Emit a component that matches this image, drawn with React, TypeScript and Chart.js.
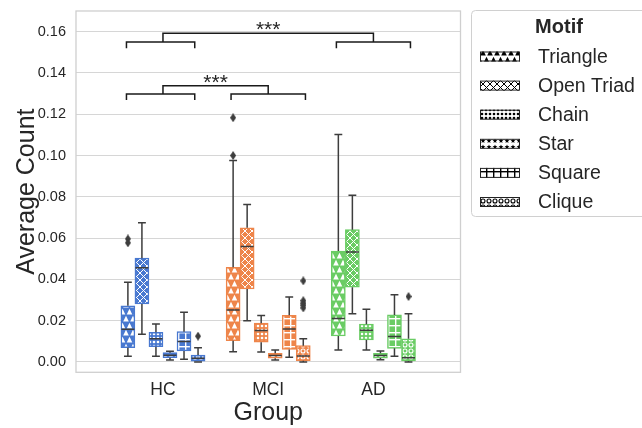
import React, { useEffect, useRef } from 'react';
import { Chart, registerables } from 'chart.js';

Chart.register(...registerables);

const GROUPS = ['HC', 'MCI', 'AD'];
const MOTIFS = ['Triangle', 'Open Triad', 'Chain', 'Star', 'Square', 'Clique'];
const HATCHES = ['triangle', 'cross', 'dots', 'star', 'plus', 'circle'];
const GROUP_COLORS = ['#4878d0', '#ee854a', '#6acc64'];

// one row per motif, values for [HC, MCI, AD]
const WHISKER_LOW = [
  [0.0028, 0.0050, 0.0058],
  [0.0134, 0.0200, 0.0233],
  [0.0028, 0.0048, 0.0058],
  [0.0010, 0.0010, 0.0011],
  [0.0013, 0.0023, 0.0028],
  [0.0000, 0.0000, 0.0000],
];
const Q1 = [
  [0.0069, 0.0103, 0.0126],
  [0.0281, 0.0354, 0.0362],
  [0.0074, 0.0096, 0.0107],
  [0.0021, 0.0018, 0.0019],
  [0.0053, 0.0061, 0.0066],
  [0.0004, 0.0006, 0.0005],
];
const MEDIAN = [
  [0.0158, 0.0252, 0.0210],
  [0.0457, 0.0559, 0.0533],
  [0.0113, 0.0152, 0.0154],
  [0.0032, 0.0031, 0.0031],
  [0.0099, 0.0160, 0.0123],
  [0.0018, 0.0029, 0.0021],
];
const Q3 = [
  [0.0272, 0.0459, 0.0537],
  [0.0503, 0.0650, 0.0641],
  [0.0144, 0.0188, 0.0183],
  [0.0045, 0.0042, 0.0042],
  [0.0147, 0.0226, 0.0228],
  [0.0034, 0.0079, 0.0112],
];
const WHISKER_HIGH = [
  [0.0386, 0.0976, 0.1102],
  [0.0674, 0.0763, 0.0808],
  [0.0184, 0.0225, 0.0255],
  [0.0052, 0.0058, 0.0053],
  [0.0241, 0.0315, 0.0326],
  [0.0069, 0.0113, 0.0234],
];
// [motif index, group index, value]
const OUTLIERS = [
  [0, 0, 0.0596], [0, 0, 0.0577],
  [5, 0, 0.0125],
  [0, 1, 0.1183], [0, 1, 0.1000],
  [5, 1, 0.0393], [5, 1, 0.0297], [5, 1, 0.0285], [5, 1, 0.0275], [5, 1, 0.0262],
  [5, 2, 0.0317],
];
const Y_TICKS = [0, 0.02, 0.04, 0.06, 0.08, 0.1, 0.12, 0.14, 0.16];

// significance annotations
const SIG_TEXT = ['***', '***'];
const SIG_PAIRS = [[0, 2], [0, 1]];
const SIG_TOP_Y = [0.1592, 0.1338];
const SIG_GROUP_Y = [0.1550, 0.1298];
const SIG_TIP_Y = [0.1520, 0.1269];
const SIG_SPAN = [[-0.347, 0.302], [-0.353, 0.354], [-0.352, 0.352]];

const FONT = "'Liberation Sans', Arial, sans-serif";
const TEXT_COLOR = '#262626';
const LINE_COLOR = '#3d3d3d';
const GRID_COLOR = '#d6d6d6';

const HUE_WIDTH = 0.8 / MOTIFS.length;
const hueOffset = (m: number) => (m - (MOTIFS.length - 1) / 2) * HUE_WIDTH;

function triangle(g: CanvasRenderingContext2D, cx: number, top: number, s: number) {
  g.beginPath();
  g.moveTo(cx, top); g.lineTo(cx + s / 2, top + s); g.lineTo(cx - s / 2, top + s); g.closePath();
  g.fill();
}

function makeTile(kind: string, fg: string, bg: string): HTMLCanvasElement {
  const c = document.createElement('canvas');
  let w = 6, h = 6;
  if (kind === 'triangle') { w = 7; h = 14; }
  if (kind === 'cross') { w = 7; h = 7; }
  if (kind === 'dots') { w = 4; h = 4; }
  if (kind === 'plus') { w = 7; h = 7; }
  c.width = w; c.height = h;
  const g = c.getContext('2d')!;
  g.fillStyle = bg;
  g.fillRect(0, 0, w, h);
  g.fillStyle = fg;
  g.strokeStyle = fg;
  if (kind === 'triangle') {
    triangle(g, 3.5, 0.8, 5.6);
    triangle(g, 0, 7.8, 5.6);
    triangle(g, 7, 7.8, 5.6);
  } else if (kind === 'cross') {
    g.lineWidth = 1;
    g.beginPath();
    g.moveTo(-1, -1); g.lineTo(w + 1, h + 1);
    g.moveTo(w + 1, -1); g.lineTo(-1, h + 1);
    g.stroke();
  } else if (kind === 'dots') {
    g.beginPath(); g.arc(2, 2, 1.3, 0, Math.PI * 2); g.fill();
  } else if (kind === 'star') {
    g.beginPath();
    for (let k = 0; k < 10; k++) {
      const r = k % 2 === 0 ? 2.6 : 1.1;
      const a = -Math.PI / 2 + (k * Math.PI) / 5;
      const px = 3 + r * Math.cos(a), py = 3 + r * Math.sin(a);
      if (k === 0) g.moveTo(px, py); else g.lineTo(px, py);
    }
    g.closePath(); g.fill();
  } else if (kind === 'plus') {
    g.fillRect(3, 0, 1.4, h);
    g.fillRect(0, 3, w, 1.4);
  } else if (kind === 'circle') {
    g.lineWidth = 1.1;
    g.beginPath(); g.arc(3, 3, 2, 0, Math.PI * 2); g.stroke();
  }
  return c;
}

function makeDiamond(): HTMLCanvasElement {
  const c = document.createElement('canvas');
  c.width = 6; c.height = 9;
  const g = c.getContext('2d')!;
  g.fillStyle = LINE_COLOR;
  g.beginPath();
  g.moveTo(3, 0); g.lineTo(6, 4.5); g.lineTo(3, 9); g.lineTo(0, 4.5); g.closePath();
  g.fill();
  return c;
}

const framePlugin = {
  id: 'frame',
  beforeDatasetsDraw(chart: any) {
    const { ctx, chartArea: a } = chart;
    ctx.save();
    ctx.strokeStyle = '#cfcfcf';
    ctx.lineWidth = 1.3;
    ctx.strokeRect(a.left, a.top, a.right - a.left, a.bottom - a.top);
    ctx.restore();
  },
};

const boxPlugin = {
  id: 'boxDetails',
  afterDatasetsDraw(chart: any) {
    const ctx = chart.ctx;
    const ys = chart.scales.y;
    ctx.save();
    ctx.strokeStyle = LINE_COLOR;
    ctx.lineWidth = 1.5;
    for (let m = 0; m < MOTIFS.length; m++) {
      const meta = chart.getDatasetMeta(m);
      meta.data.forEach((el: any, g: number) => {
        const { x, width } = el.getProps(['x', 'width'], true);
        const lo = ys.getPixelForValue(WHISKER_LOW[m][g]);
        const q1 = ys.getPixelForValue(Q1[m][g]);
        const md = ys.getPixelForValue(MEDIAN[m][g]);
        const q3 = ys.getPixelForValue(Q3[m][g]);
        const hi = ys.getPixelForValue(WHISKER_HIGH[m][g]);
        const cap = width * 0.28;
        ctx.beginPath();
        ctx.moveTo(x, q1); ctx.lineTo(x, lo);
        ctx.moveTo(x, q3); ctx.lineTo(x, hi);
        ctx.moveTo(x - cap, lo); ctx.lineTo(x + cap, lo);
        ctx.moveTo(x - cap, hi); ctx.lineTo(x + cap, hi);
        ctx.moveTo(x - width / 2 + 0.5, md); ctx.lineTo(x + width / 2 - 0.5, md);
        ctx.stroke();
      });
    }
    ctx.restore();
  },
};

const sigPlugin = {
  id: 'significance',
  afterDraw(chart: any) {
    const { ctx } = chart;
    const xs = chart.scales.x, ys = chart.scales.y;
    ctx.save();
    ctx.strokeStyle = '#1a1a1a';
    ctx.lineWidth = 1.5;
    ctx.fillStyle = TEXT_COLOR;
    SIG_PAIRS.forEach((pair, k) => {
      const top = ys.getPixelForValue(SIG_TOP_Y[k]);
      const grp = ys.getPixelForValue(SIG_GROUP_Y[k]);
      const tip = ys.getPixelForValue(SIG_TIP_Y[k]);
      ctx.beginPath();
      pair.forEach((g) => {
        const l = xs.getPixelForValue(g + SIG_SPAN[g][0]);
        const r = xs.getPixelForValue(g + SIG_SPAN[g][1]);
        ctx.moveTo(l, tip); ctx.lineTo(l, grp); ctx.lineTo(r, grp); ctx.lineTo(r, tip);
      });
      const a = xs.getPixelForValue(pair[0]);
      const b = xs.getPixelForValue(pair[1]);
      ctx.moveTo(a, grp); ctx.lineTo(a, top); ctx.lineTo(b, top); ctx.lineTo(b, grp);
      ctx.stroke();
      ctx.font = `21px ${FONT}`;
      ctx.textAlign = 'center';
      ctx.textBaseline = 'alphabetic';
      ctx.fillText(SIG_TEXT[k], (a + b) / 2, top + 3);
    });
    ctx.restore();
  },
};

function makeLegendPlugin(tiles: HTMLCanvasElement[]) {
  return {
    id: 'motifLegend',
    afterDraw(chart: any) {
      const { ctx } = chart;
      ctx.save();
      ctx.fillStyle = 'rgba(255,255,255,0.9)';
      ctx.strokeStyle = '#d0d0d0';
      ctx.lineWidth = 1;
      ctx.beginPath();
      ctx.roundRect(471.5, 10.5, 190, 206, 4);
      ctx.fill();
      ctx.stroke();
      ctx.fillStyle = TEXT_COLOR;
      ctx.font = `bold 20px ${FONT}`;
      ctx.textAlign = 'center';
      ctx.textBaseline = 'middle';
      ctx.fillText('Motif', 559, 27.5);
      ctx.font = `19.5px ${FONT}`;
      ctx.textAlign = 'left';
      MOTIFS.forEach((name, i) => {
        const cy = 56.5 + i * 29.1;
        const pat = ctx.createPattern(tiles[i], 'repeat');
        ctx.fillStyle = pat;
        ctx.fillRect(480, cy - 5, 40, 10);
        ctx.strokeStyle = '#222222';
        ctx.lineWidth = 1;
        ctx.strokeRect(480.5, cy - 4.5, 39, 9);
        ctx.fillStyle = TEXT_COLOR;
        ctx.fillText(name, 538, cy + 1);
      });
      ctx.restore();
    },
  };
}

export default function App() {
  const ref = useRef<HTMLCanvasElement | null>(null);

  useEffect(() => {
    const canvas = ref.current;
    if (!canvas) return;
    const ctx = canvas.getContext('2d')!;
    const diamond = makeDiamond();
    const legendTiles = HATCHES.map((h) => makeTile(h, '#000000', '#ffffff'));

    const boxSets = MOTIFS.map((name, m) => ({
      type: 'bar' as const,
      label: name,
      data: GROUPS.map((_, g) => ({ x: g + hueOffset(m), y: [Q1[m][g], Q3[m][g]] })),
      backgroundColor: GROUP_COLORS.map((c) => ctx.createPattern(makeTile(HATCHES[m], '#ffffff', c), 'repeat')),
      borderColor: GROUP_COLORS,
      borderWidth: 1.5,
      borderSkipped: false,
      grouped: false,
      barPercentage: 1,
      categoryPercentage: 1,
      order: 2,
    }));

    const outlierSet = {
      type: 'scatter' as const,
      label: 'outliers',
      data: OUTLIERS.map(([m, g, v]) => ({ x: g + hueOffset(m), y: v })),
      pointStyle: diamond,
      backgroundColor: LINE_COLOR,
      borderColor: LINE_COLOR,
      order: 1,
    };

    const chart: any = new Chart(canvas, {
      type: 'bar',
      data: { datasets: [...boxSets, outlierSet] as any },
      options: {
        responsive: false,
        animation: false,
        layout: { padding: { top: 11, right: 181.5, left: 0, bottom: 0 } },
        plugins: {
          legend: { display: false },
          tooltip: { enabled: false },
        },
        scales: {
          x: {
            type: 'linear',
            offset: false,
            min: -0.8265,
            max: 2.8275,
            afterBuildTicks: (s: any) => { s.ticks = GROUPS.map((_, i) => ({ value: i })); },
            afterFit: (s: any) => { s.height = 55.7; s.paddingLeft = 0; s.paddingRight = 0; },
            grid: { display: false, drawTicks: false },
            border: { display: false },
            ticks: {
              autoSkip: false,
              maxRotation: 0,
              padding: 7,
              color: TEXT_COLOR,
              font: { family: FONT, size: 17.5 },
              callback: (v: any) => GROUPS[Math.round(Number(v))] ?? '',
            },
            title: {
              display: true,
              text: 'Group',
              color: TEXT_COLOR,
              font: { family: FONT, size: 25 },
              padding: { top: 0, bottom: 0 },
            },
          },
          y: {
            type: 'linear',
            min: -0.005,
            max: 0.17,
            afterBuildTicks: (s: any) => { s.ticks = Y_TICKS.map((v) => ({ value: v })); },
            afterFit: (s: any) => { s.width = 76; s.paddingTop = 0; s.paddingBottom = 0; },
            grid: { color: GRID_COLOR, lineWidth: 1, drawTicks: false },
            border: { display: false },
            ticks: {
              padding: 10,
              color: TEXT_COLOR,
              font: { family: FONT, size: 14.5 },
              callback: (v: any) => Number(v).toFixed(2),
            },
            title: {
              display: true,
              text: 'Average Count',
              color: TEXT_COLOR,
              font: { family: FONT, size: 25 },
              padding: { top: 12, bottom: 0 },
            },
          },
        },
      },
      plugins: [framePlugin, boxPlugin, sigPlugin, makeLegendPlugin(legendTiles)],
    });

    return () => chart.destroy();
  }, []);

  return (
    <div style={{ position: 'fixed', left: 0, top: 0, width: 642, height: 428, background: '#ffffff' }}>
      <canvas ref={ref} width={642} height={428} style={{ display: 'block', width: 642, height: 428 }} />
    </div>
  );
}
